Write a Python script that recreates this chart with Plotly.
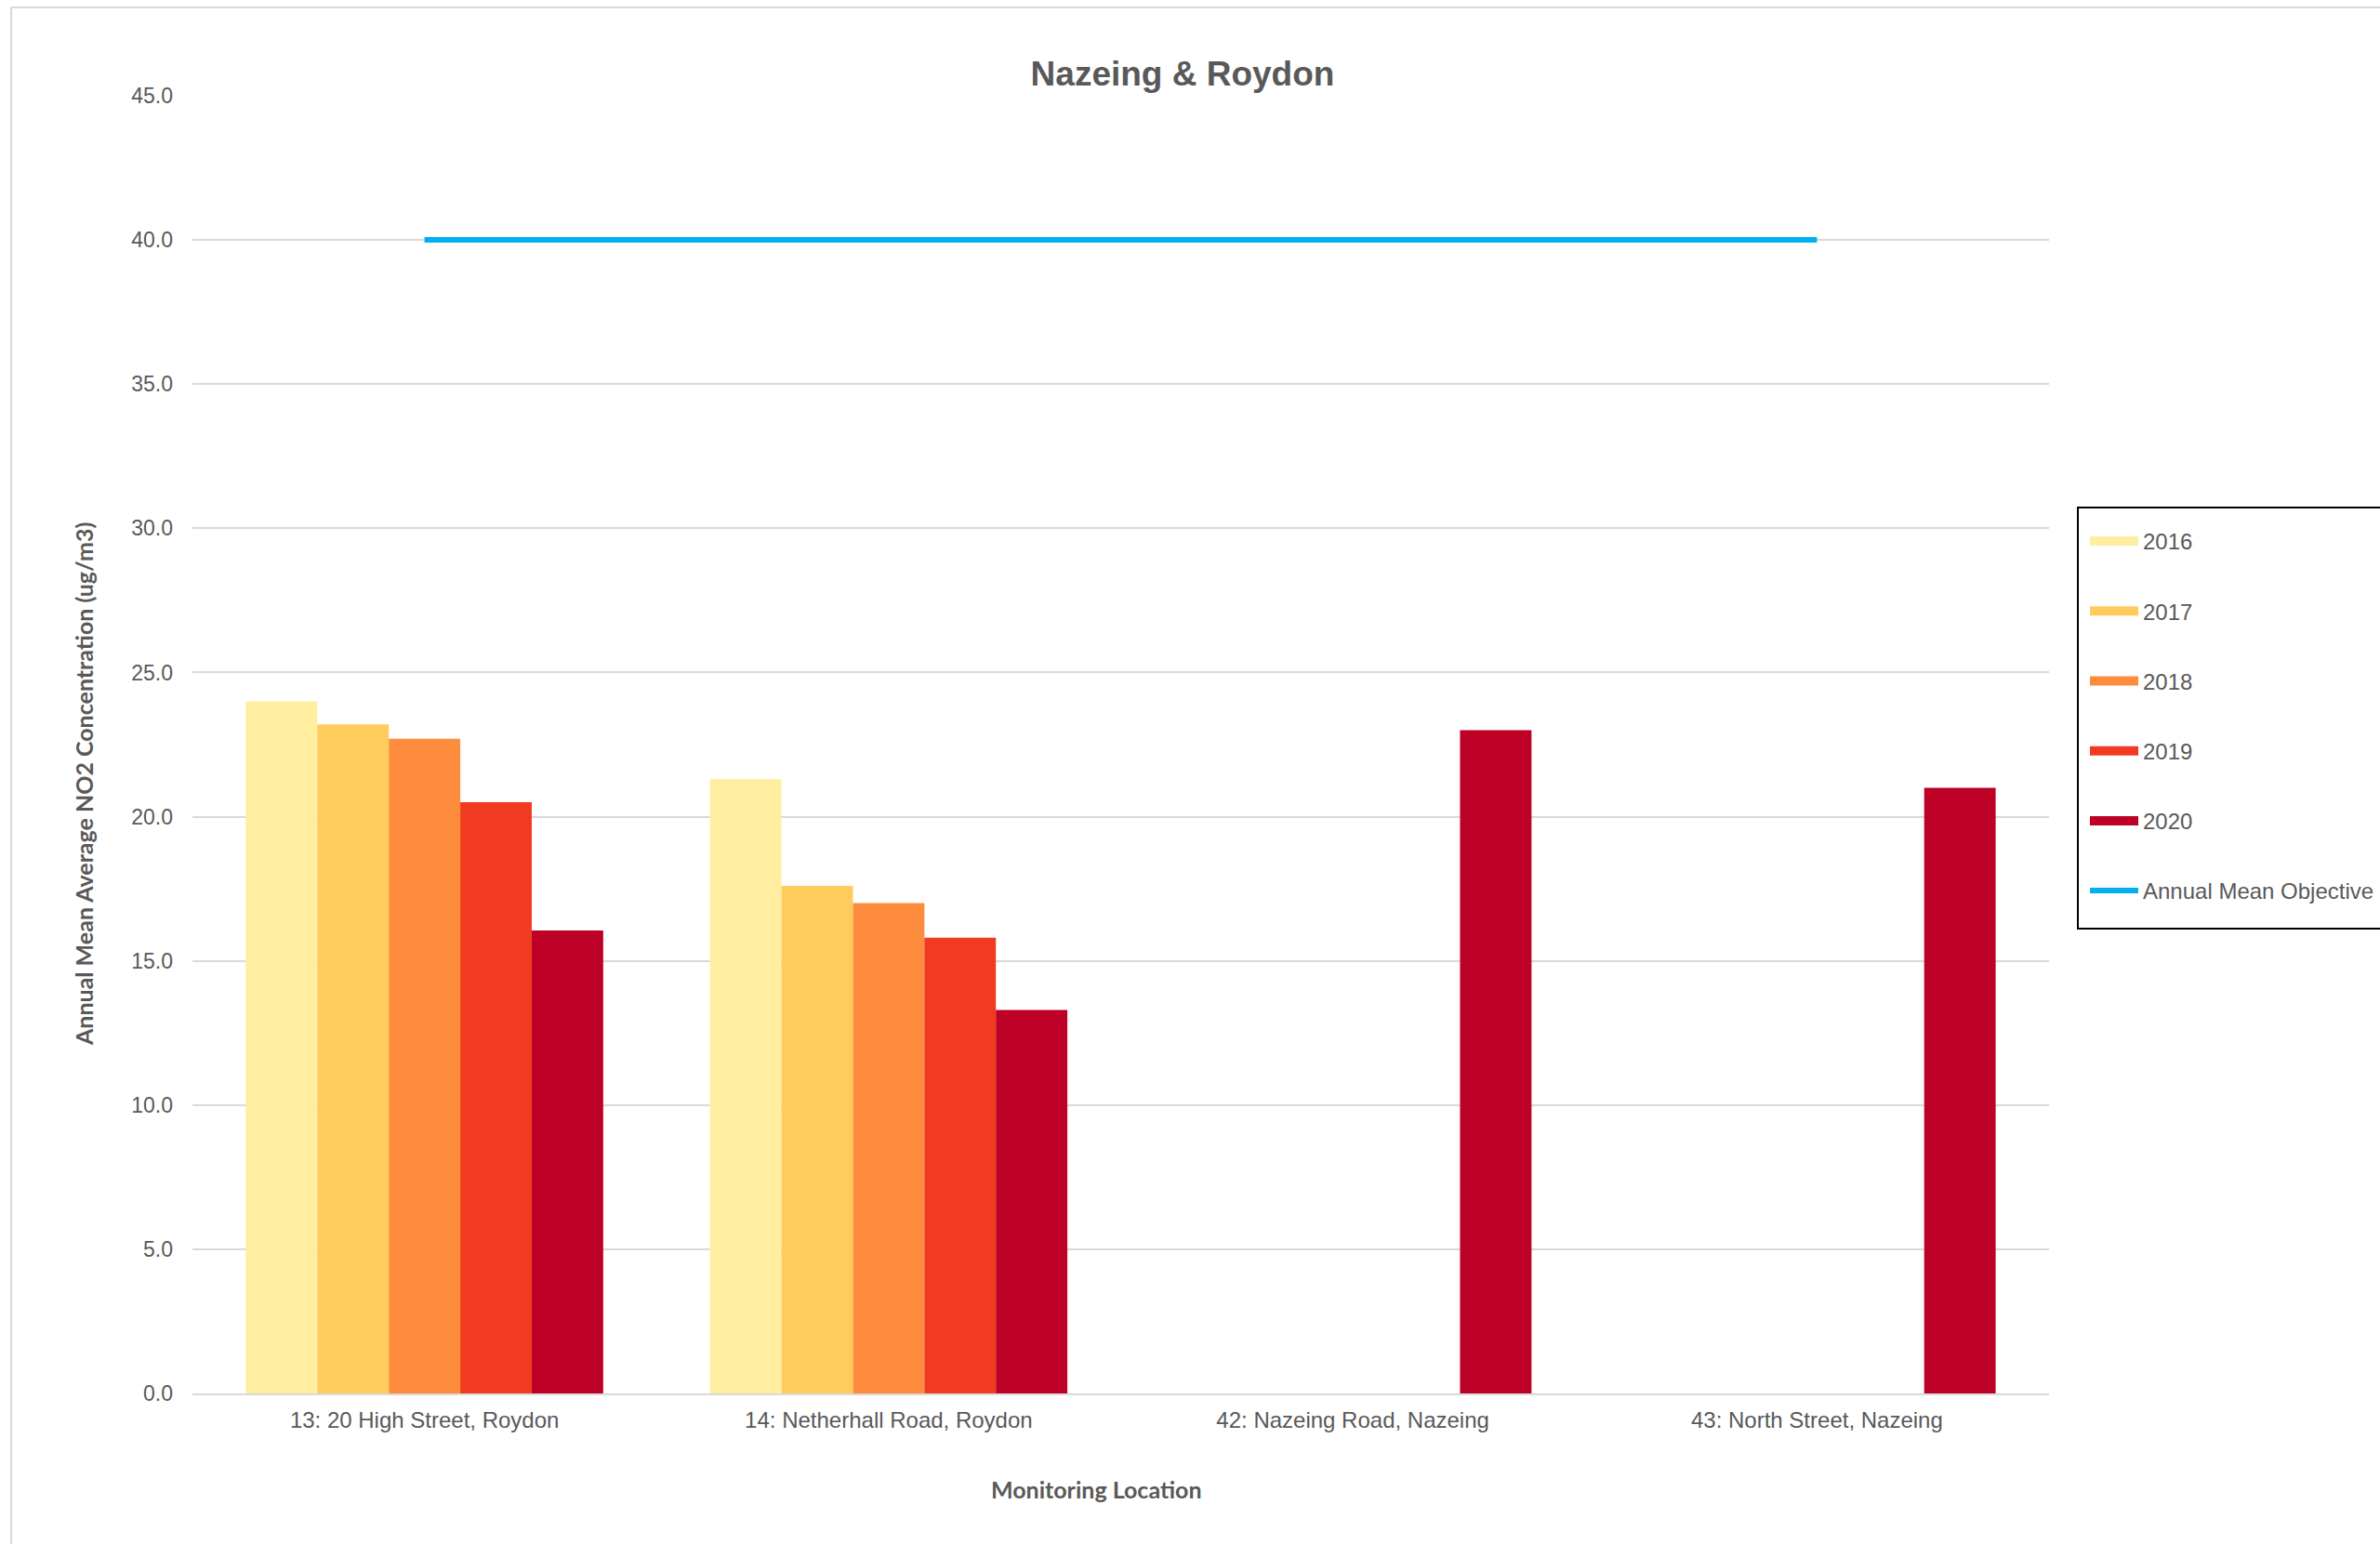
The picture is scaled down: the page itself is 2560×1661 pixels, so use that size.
import plotly.graph_objects as go

# ---- data ----
locations = ["13: 20 High Street, Roydon", "14: Netherhall Road, Roydon",
             "42: Nazeing Road, Nazeing", "43: North Street, Nazeing"]
years = ["2016", "2017", "2018", "2019", "2020"]
v2016 = [24.0, 21.3, None, None]
v2017 = [23.2, 17.6, None, None]
v2018 = [22.7, 17.0, None, None]
v2019 = [20.5, 15.8, None, None]
v2020 = [16.05, 13.3, 23.0, 21.0]
objective = [40, 40, 40, 40]
y_ticks = [0, 5, 10, 15, 20, 25, 30, 35, 40, 45]

series = [v2016, v2017, v2018, v2019, v2020]
colors = ["#FFEDA0", "#FECC5C", "#FD8D3C", "#F03B20", "#BD0026"]
line_color = "#00B0F0"
text_color = "#595959"

W, H = 2560, 1661
L, R, T, B = 207, 356, 103, 162
PW, PH = W - L - R, H - T - B


def px_x(x):
    return (x - L) / PW


def px_y(y):
    return (H - B - y) / PH


fig = go.Figure()
for yr, vals, c in zip(years, series, colors):
    fig.add_trace(go.Bar(x=locations, y=vals, name=yr, marker=dict(color=c, line=dict(width=0)),
                         legendgroup=yr, showlegend=False))
    # legend entry (wide rectangular swatch like the original)
    fig.add_trace(go.Scatter(x=[None], y=[None], mode="lines", name=yr, legendgroup=yr,
                             line=dict(color=c, width=12), showlegend=True, hoverinfo="skip"))

fig.add_trace(go.Scatter(x=locations, y=objective, mode="lines", name="Annual Mean Objective",
                         legendgroup="obj", line=dict(color=line_color, width=6)))

fig.update_layout(
    width=W, height=H,
    margin=dict(l=L, r=R, t=T, b=B, autoexpand=False),
    paper_bgcolor="white", plot_bgcolor="white",
    barmode="group", bargap=0.23, bargroupgap=0,
    font=dict(family="Liberation Sans, Arial, sans-serif", size=24, color=text_color),
    title=dict(text="Nazeing & Roydon", x=1272 / W, xanchor="center", xref="container",
               y=1 - 79 / H, yanchor="middle", yref="container",
               font=dict(family="Liberation Sans, Arial, sans-serif", size=37, color=text_color,
                         weight="bold")),
    xaxis=dict(type="category", showgrid=False, showline=True, linecolor="#D9D9D9", linewidth=2,
               ticks="", tickfont=dict(size=24, color=text_color), ticklabelstandoff=6),
    yaxis=dict(range=[0, 45], tickvals=y_ticks, tickformat=".1f", showgrid=True,
               gridcolor="#D9D9D9", gridwidth=1.5, zeroline=False, showline=False, ticks="",
               tickfont=dict(size=23, color=text_color), ticklabelstandoff=20),
    legend=dict(x=px_x(2243), xanchor="left", y=px_y(560), yanchor="top",
                bgcolor="rgba(0,0,0,0)", borderwidth=0, traceorder="grouped",
                tracegroupgap=41, itemwidth=52,
                font=dict(size=24, color=text_color)),
    showlegend=True,
)

# chart frame and legend box
fig.add_shape(type="rect", xref="paper", yref="paper",
              x0=px_x(12), x1=px_x(2620), y0=px_y(1720), y1=px_y(8),
              line=dict(color="#D9D9D9", width=2), layer="below")
fig.add_shape(type="rect", xref="paper", yref="paper",
              x0=px_x(2235), x1=px_x(2620), y0=px_y(999), y1=px_y(546),
              line=dict(color="black", width=2), layer="above")

# axis titles
fig.add_annotation(text="<b>Monitoring Location</b>", xref="paper", yref="paper",
                   x=px_x(1179), y=px_y(1602), xanchor="center", yanchor="middle",
                   showarrow=False, font=dict(family="Lato, sans-serif", size=25, color=text_color))
fig.add_annotation(text="<b>Annual Mean Average NO2 Concentration (ug/m3)</b>", xref="paper", yref="paper",
                   x=px_x(90), y=px_y(844), xanchor="center", yanchor="middle", textangle=-90,
                   showarrow=False, font=dict(family="Lato, sans-serif", size=25, color=text_color))

fig.write_html("out.html")
